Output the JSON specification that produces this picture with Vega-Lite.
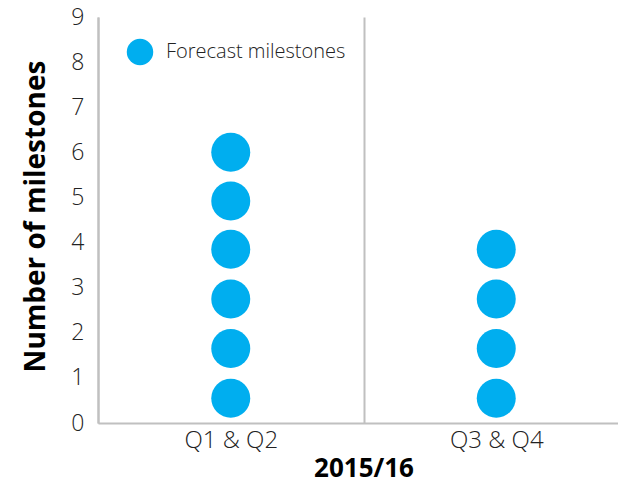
{
  "$schema": "https://vega.github.io/schema/vega-lite/v6.json",
  "width": 531,
  "height": 406,
  "autosize": {"type": "none"},
  "padding": {"left": 98, "top": 17, "right": 0, "bottom": 74},
  "background": "white",
  "config": {
    "view": {"stroke": null},
    "font": "Open Sans"
  },
  "data": {
    "values": [
      {"period": "Q1 & Q2", "milestones": 0.55, "series": "Forecast milestones"},
      {"period": "Q1 & Q2", "milestones": 1.65, "series": "Forecast milestones"},
      {"period": "Q1 & Q2", "milestones": 2.75, "series": "Forecast milestones"},
      {"period": "Q1 & Q2", "milestones": 3.85, "series": "Forecast milestones"},
      {"period": "Q1 & Q2", "milestones": 4.92, "series": "Forecast milestones"},
      {"period": "Q1 & Q2", "milestones": 6.0, "series": "Forecast milestones"},
      {"period": "Q3 & Q4", "milestones": 0.55, "series": "Forecast milestones"},
      {"period": "Q3 & Q4", "milestones": 1.65, "series": "Forecast milestones"},
      {"period": "Q3 & Q4", "milestones": 2.75, "series": "Forecast milestones"},
      {"period": "Q3 & Q4", "milestones": 3.85, "series": "Forecast milestones"}
    ]
  },
  "mark": {"type": "circle", "size": 1520, "opacity": 1},
  "encoding": {
    "x": {
      "field": "period",
      "type": "nominal",
      "scale": {"paddingInner": 0, "paddingOuter": 0},
      "axis": {
        "title": "2015/16",
        "titleFontSize": 26,
        "titleFontWeight": "bold",
        "titleColor": "#000000",
        "titlePadding": 3,
        "labelAngle": 0,
        "labelFontSize": 24,
        "labelFontWeight": 300,
        "labelColor": "#222222",
        "labelPadding": 5,
        "ticks": false,
        "tickBand": "extent",
        "domainColor": "#c0c0c0",
        "domainWidth": 2,
        "grid": true,
        "gridColor": "#c0c0c0",
        "gridWidth": 2
      }
    },
    "y": {
      "field": "milestones",
      "type": "quantitative",
      "scale": {"domain": [0, 9], "nice": false},
      "axis": {
        "title": "Number of milestones",
        "titleFontSize": 28,
        "titleFontWeight": "bold",
        "titleColor": "#000000",
        "titlePadding": 20,
        "titleY": 199,
        "values": [0, 1, 2, 3, 4, 5, 6, 7, 8, 9],
        "labelFontSize": 23,
        "labelFontWeight": 300,
        "labelColor": "#222222",
        "labelPadding": 14,
        "ticks": false,
        "grid": false,
        "domainColor": "#c0c0c0",
        "domainWidth": 2
      }
    },
    "color": {
      "field": "series",
      "type": "nominal",
      "scale": {"range": ["#00AEEF"]},
      "legend": {
        "title": null,
        "orient": "none",
        "legendX": 28,
        "legendY": 21,
        "symbolSize": 700,
        "symbolType": "circle",
        "symbolOpacity": 1,
        "labelFontSize": 20,
        "labelFontWeight": 300,
        "labelColor": "#222222",
        "labelOffset": 12,
        "labelLimit": 400
      }
    }
  }
}
